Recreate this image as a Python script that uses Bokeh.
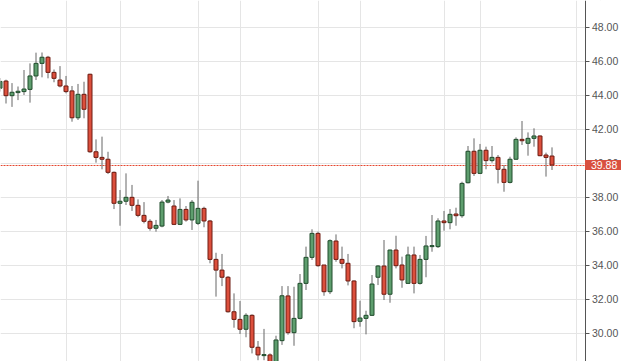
from bokeh.plotting import figure
from bokeh.models import (Range1d, FixedTicker, Grid, Label, ColumnDataSource,
                          NumeralTickFormatter, BoxAnnotation)
from bokeh.embed import file_html
from bokeh.resources import INLINE

# Daily OHLC values (oldest first)
opens = [44.4, 44.82, 43.96, 44.14, 44.2, 44.33, 45.12, 45.86, 46.22, 45.33,
         44.88, 44.53, 44.24, 42.66, 44.04, 45.22, 40.66, 40.33, 40.22, 39.45,
         37.63, 37.75, 37.98, 37.51, 36.92, 36.57, 36.16, 36.29, 37.7, 37.47,
         36.39, 37.27, 36.65, 36.45, 37.33, 36.59, 34.33, 33.7, 33.28, 31.25,
         30.8, 30.22, 31.04, 29.16, 28.67, 28.71, 28.3, 29.55, 32.18, 30.02,
         30.86, 32.92, 34.45, 35.86, 34.0, 32.43, 35.41, 34.33, 34.1, 33.06,
         30.69, 30.86, 31.04, 33.28, 33.94, 32.28, 34.88, 34.0, 32.92, 34.59,
         32.92, 34.33, 35.08, 35.08, 36.59, 36.49, 37.0, 36.9, 38.84, 40.69,
         39.39, 40.75, 40.14, 40.33, 39.63, 38.86, 40.22, 41.39, 41.16, 41.45,
         41.59, 40.47, 40.41]
highs = [45.0, 44.9, 44.7, 44.5, 45.47, 45.86, 46.49, 46.5, 46.3, 45.5,
         45.7, 45.12, 44.53, 44.65, 44.78, 45.25, 41.39, 41.55, 40.66, 39.5,
         38.41, 39.39, 38.71, 37.86, 37.7, 36.69, 36.65, 37.82, 38.06, 37.82,
         37.92, 37.47, 37.82, 38.96, 37.43, 36.65, 34.72, 34.65, 33.35, 32.33,
         31.88, 31.16, 31.1, 29.53, 30.24, 28.8, 29.84, 32.76, 32.76, 32.72,
         33.47, 35.08, 36.1, 35.96, 34.0, 35.51, 35.8, 35.08, 34.65, 33.1,
         31.9, 31.31, 33.41, 34.0, 35.47, 34.9, 35.72, 34.49, 35.08, 35.08,
         34.59, 35.71, 36.94, 36.75, 37.18, 37.29, 37.37, 38.9, 41.0, 41.45,
         41.12, 40.96, 41.0, 40.47, 39.88, 40.37, 41.51, 42.47, 41.8, 42.04,
         41.62, 40.61, 40.92]
lows = [44.2, 43.5, 43.3, 43.7, 44.0, 43.55, 44.88, 45.04, 44.98, 44.75,
        44.45, 44.1, 42.43, 42.53, 42.63, 40.6, 40.02, 39.63, 39.35, 37.29,
        36.31, 37.53, 37.18, 36.81, 36.45, 36.02, 35.96, 36.22, 37.63, 36.35,
        36.35, 36.55, 36.06, 36.35, 36.22, 34.1, 32.14, 32.76, 31.2, 30.31,
        29.94, 29.75, 28.8, 28.4, 28.4, 28.0, 28.1, 29.3, 29.9, 29.25,
        30.8, 32.53, 34.3, 33.9, 32.19, 32.29, 34.19, 33.8, 32.8, 30.28,
        30.37, 29.92, 31.0, 32.82, 31.94, 31.78, 33.8, 32.66, 32.9, 32.33,
        32.85, 33.28, 34.78, 35.0, 36.02, 36.1, 36.31, 36.78, 38.8, 39.24,
        39.35, 39.63, 40.02, 38.8, 38.31, 38.8, 40.2, 41.06, 40.43, 40.96,
        40.4, 39.2, 39.59]
closes = [44.8, 43.96, 44.16, 44.22, 44.35, 45.12, 45.86, 46.22, 45.33, 44.98,
          44.53, 44.2, 42.66, 44.04, 43.16, 40.66, 40.33, 40.22, 39.45, 37.63,
          37.75, 37.98, 37.51, 36.92, 36.57, 36.16, 36.33, 37.7, 37.82, 36.39,
          37.27, 36.65, 37.69, 37.33, 36.59, 34.33, 33.7, 33.28, 31.25, 30.8,
          30.22, 31.04, 29.16, 28.71, 28.73, 28.2, 29.59, 32.19, 30.02, 30.86,
          32.92, 34.45, 35.86, 33.96, 32.43, 35.43, 34.33, 34.1, 33.06, 30.67,
          30.88, 31.04, 32.88, 33.94, 32.28, 34.88, 33.96, 33.12, 34.59, 32.92,
          34.33, 35.12, 35.14, 36.59, 36.49, 36.98, 36.9, 38.8, 40.69, 39.39,
          40.75, 40.14, 40.33, 39.63, 38.86, 40.22, 41.39, 41.31, 41.45, 41.59,
          40.43, 40.33, 39.88]
last_price = 39.88
price_ticks = [30, 32, 34, 36, 38, 40, 42, 44, 46, 48]
month_starts = [11, 33, 53, 74, 96]  # bar index where each month begins

# layout constants (bar-index / price space), chosen so 1px lines land on pixel rows
X_START = 1 - 5.5 / 6
X_END = X_START + 621 / 6
Y_END = 48 + 26.5 / 17
Y_START = Y_END - 361 / 17
AXIS_AT = X_START + 584.5 / 6   # price axis sits just right of the last bars

UP_FILL, UP_LINE = "#5e9e6e", "#214d2d"
DN_FILL, DN_LINE = "#dc4f3c", "#6e1c12"
PRICE_RED = "#e5452d"
GRID = "#e5e5e5"
TXT = "#555555"

idx = list(range(len(opens)))
tops = [max(o, c) for o, c in zip(opens, closes)]
bots = [min(o, c) for o, c in zip(opens, closes)]
up = [c >= o for o, c in zip(opens, closes)]
src = ColumnDataSource(dict(
    x=idx, high=highs, low=lows, top=tops, bottom=bots,
    fill=[UP_FILL if u else DN_FILL for u in up],
    line=[UP_LINE if u else DN_LINE for u in up],
))

p = figure(width=621, height=361, output_backend="svg", toolbar_location=None,
           x_range=Range1d(X_START, X_END), y_range=Range1d(Y_START, Y_END),
           x_axis_location=None, y_axis_location="right",
           min_border_left=0, min_border_top=0, min_border_bottom=0, min_border_right=0)
p.outline_line_color = None
p.background_fill_color = "white"

p.ygrid.grid_line_color = GRID
p.add_layout(Grid(dimension=0, ticker=FixedTicker(ticks=month_starts), grid_line_color=GRID))

# blank the area right of the price axis (grid lines stop at the axis)
p.add_layout(BoxAnnotation(left=AXIS_AT, fill_color="white", fill_alpha=1.0,
                           line_color=None, level="glyph"))

ax = p.yaxis[0]
ax.fixed_location = AXIS_AT
ax.ticker = FixedTicker(ticks=price_ticks)
ax.formatter = NumeralTickFormatter(format="0.00")
ax.axis_line_color = TXT
ax.major_tick_line_color = TXT
ax.major_tick_out = 4
ax.major_tick_in = 0
ax.minor_tick_line_color = None
ax.major_label_standoff = 3
ax.major_label_text_font = "Liberation Sans"
ax.major_label_text_font_size = "10.5px"
ax.major_label_text_color = TXT

# last-price line
p.hspan(y=[last_price], line_color=PRICE_RED, line_dash="2 1", line_width=1)

p.segment(x0="x", y0="low", x1="x", y1="high", source=src, line_color="#666666", line_width=1)
p.vbar(x="x", width=4 / 6, top="top", bottom="bottom", source=src,
       fill_color="fill", line_color="line", line_width=1)

p.add_layout(Label(x=AXIS_AT, y=last_price, text=f"{last_price:.2f}", text_color="white",
                   text_font="Liberation Sans", text_font_size="10.5px",
                   text_baseline="middle", text_align="left",
                   background_fill_color="#d9503f", padding=(6, 1)))

open("out.html", "w").write(file_html(p, INLINE))
